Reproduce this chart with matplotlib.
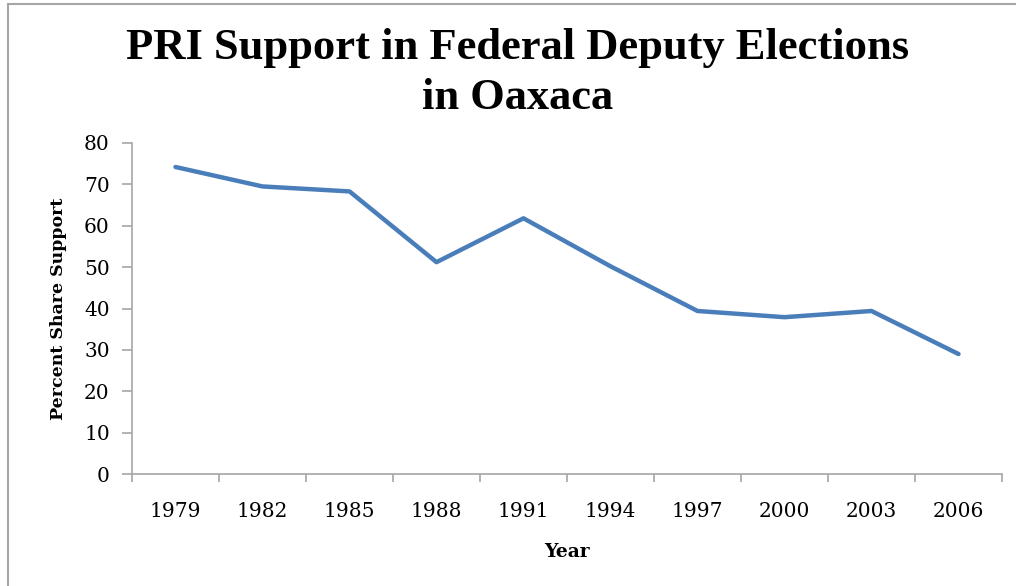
import numpy as np
import matplotlib
matplotlib.use("Agg")
import matplotlib.pyplot as plt
from matplotlib.lines import Line2D

# PRI vote share by election year
years = ['1979', '1982', '1985', '1988', '1991', '1994', '1997', '2000', '2003', '2006']
support = [74.2, 69.5, 68.3, 51.2, 61.8, 50.2, 39.4, 37.9, 39.4, 29.0]
yticks = [0, 10, 20, 30, 40, 50, 60, 70, 80]

axis_grey = '#a6a6a6'
line_blue = '#4a7ebb'
serif = ['DejaVu Serif']

fig = plt.figure(figsize=(10.16, 5.86), dpi=100)
ax = fig.add_axes([132 / 1016, 1 - 474 / 586, 870 / 1016, 331 / 586])

x = np.arange(len(years))
ax.plot(x, support, color=line_blue, lw=3.2, solid_joinstyle='round',
        solid_capstyle='round')

ax.set_xlim(-0.5, len(years) - 0.5)
ax.set_ylim(0, 80)

# excel style: category labels centred, tick marks between categories
ax.set_xticks(x)
ax.set_xticklabels(years, family=serif, fontsize=14.5)
ax.set_xticks(np.arange(-0.5, len(years)), minor=True)
ax.tick_params(axis='x', which='major', length=0, pad=20)
ax.tick_params(axis='x', which='minor', length=6, color=axis_grey, width=1.2)

ax.set_yticks(yticks)
ax.set_yticklabels([str(v) for v in yticks], family=serif, fontsize=14.5)
ax.tick_params(axis='y', length=7, color=axis_grey, width=1.2, pad=9)

for side in ['top', 'right']:
    ax.spines[side].set_visible(False)
for side in ['left', 'bottom']:
    ax.spines[side].set_color(axis_grey)
    ax.spines[side].set_linewidth(1.2)

ax.set_ylabel('Percent Share Support', family=serif, fontsize=12.5,
              fontweight='bold', labelpad=12)
ax.set_xlabel('Year', family=serif, fontsize=13.5, fontweight='bold',
              labelpad=16)

fig.text(518 / 1016, 1 - 73 / 586,
         'PRI Support in Federal Deputy Elections\nin Oaxaca',
         ha='center', va='center', family=['Liberation Serif'],
         fontsize=32, fontweight='bold', linespacing=1.3)

# chart area frame (only top and left edges are visible in the crop)
fig.add_artist(Line2D([8 / 1016, 8 / 1016], [0, 1 - 4 / 586],
                      transform=fig.transFigure, color=axis_grey, lw=1.5))
fig.add_artist(Line2D([8 / 1016, 1], [1 - 4 / 586, 1 - 4 / 586],
                      transform=fig.transFigure, color=axis_grey, lw=1.5))

fig.savefig('out.png', dpi=100)
